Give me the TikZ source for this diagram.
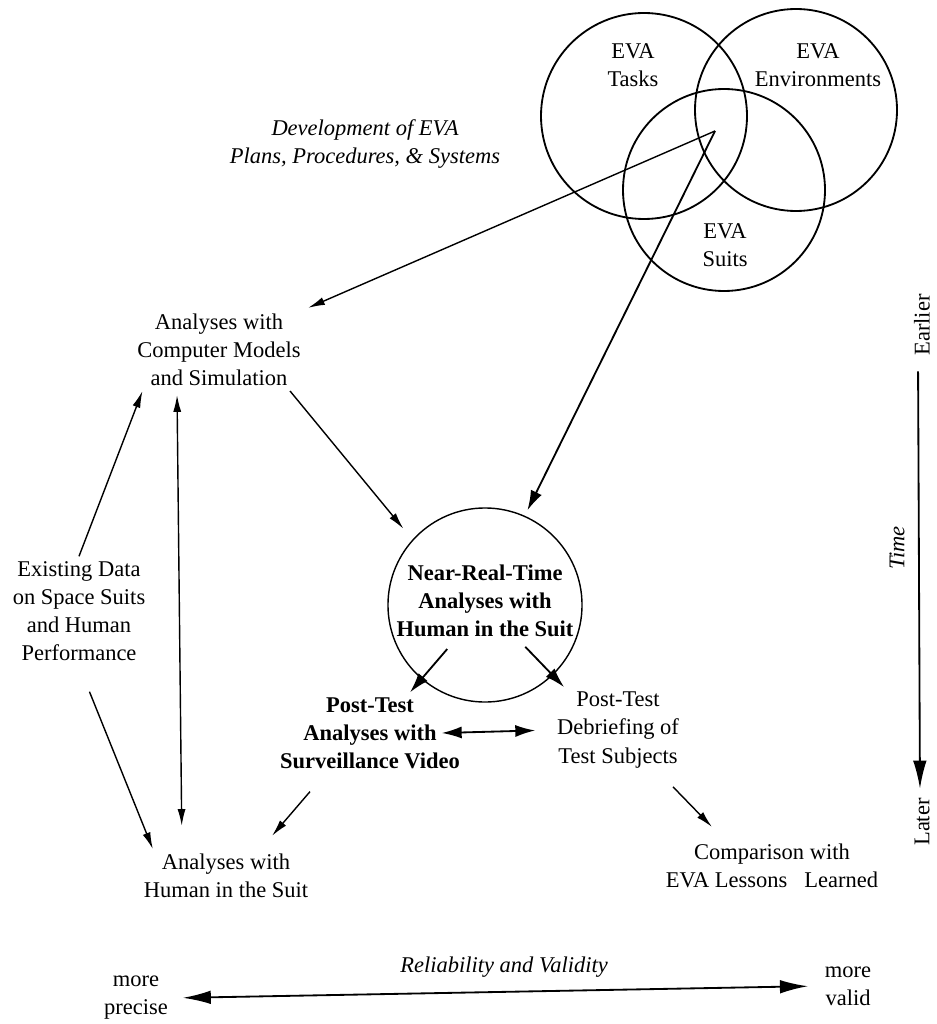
\documentclass[tikz,border=0pt]{standalone}
\usepackage{fontspec}
\setmainfont{Liberation Serif}
\usetikzlibrary{arrows.meta,positioning}

\begin{document}
\begin{tikzpicture}[x=0.025cm,y=-0.025cm,
    lbl/.style={align=center,font=\fontsize{16}{20}\selectfont},
    lblb/.style={lbl,font=\fontsize{16}{20}\selectfont\bfseries},
    lbli/.style={lbl,font=\fontsize{16}{20}\selectfont\itshape},
    thinarr/.style={line width=1pt,-{Latex[length=0.42cm,width=0.2cm]}},
    bigarr/.style={line width=1.3pt,-{Latex[length=0.5cm,width=0.3cm]}},
    longtip/.style={line width=1.3pt,-{Latex[length=0.7cm,width=0.34cm]}}]

\useasboundingbox (0,0) rectangle (936,1024);

\coordinate (cTasks) at (644,116);
\coordinate (cEnv) at (796,110);
\coordinate (cSuits) at (724,190);
\coordinate (vennmid) at (715,131);

% the three overlapping sets
\foreach \c/\r in {cTasks/103, cEnv/101, cSuits/101}
{
    \draw[line width=1.3pt] (\c) circle (\r);
};

\node[lbl] (tasks) at (633,65) {EVA\\Tasks};
\node[lbl] (envs) at (818,65) {EVA\\Environments};
\node[lbl] (suits) at (725,245) {EVA\\Suits};
\node[lbli] (devel) at (365,144) {Development of EVA\\Plans, Procedures, \& Systems};

\node[lbl] (cms) at (219,350) {Analyses with\\Computer Models\\and Simulation};
\node[lbl] (exist) at (79,611) {Existing Data\\on Space Suits\\and Human\\Performance};
\node[circle,draw,line width=1pt,minimum size=4.85cm] (nrt) at (485,605) {};
\node[lblb] (nrttext) at (485,601) {Near-Real-Time\\Analyses with\\Human in the Suit};
\node[lblb] (video) at (370,733) {Post-Test\\Analyses with\\Surveillance Video};
\node[lbl] (debrief) at (618,730) {Post-Test\\Debriefing of\\Test Subjects};
\node[lbl] (human) at (226,876) {Analyses with\\Human in the Suit};
\node[lbl] (lessons) at (772,866) {Comparison with\\EVA Lessons\ \ \ Learned};

% time axis
\node[lbl,rotate=90,inner sep=1pt] (earlier) at (922,325) {Earlier};
\node[lbl,rotate=90,inner sep=1pt] (later) at (922,822) {Later};
\node[lbli,rotate=90] (time) at (897,548) {Time};

% reliability axis
\node[lbl] (precise) at (136,998) {more\\precise};
\node[lbl] (valid) at (848,986) {more\\valid};
\node[lbli] (relval) at (504,967) {Reliability and Validity};

\draw[thinarr,shorten >=2pt] (vennmid) -- (cms.north east);
\draw[bigarr,shorten >=0.15cm] (vennmid) -- (nrt.66);
\draw[thinarr,shorten >=0.35cm] (cms.-30) -- (nrt.138);
\draw[thinarr] (exist.north) -- ([xshift=0.25cm]cms.south west);
\draw[thinarr,shorten <=0.7cm] (exist.south) -- ([xshift=0.35cm]human.north west);
\draw[thinarr,{Latex[length=0.42cm,width=0.2cm]}-{Latex[length=0.42cm,width=0.2cm]},shorten <=0.1cm,shorten >=0.58cm]
    ([xshift=-1.05cm]cms.south) -- ([xshift=-1.1cm]human.north);
\draw[bigarr,shorten <=1.45cm] (nrt.center) -- ([xshift=1cm]video.north);
\draw[bigarr,shorten <=1.45cm] (nrt.center) -- ([xshift=0.3cm]debrief.north west);
\draw[bigarr,{Latex[length=0.5cm,width=0.3cm]}-{Latex[length=0.5cm,width=0.3cm]},shorten >=0.42cm]
    ([xshift=-0.58cm]video.east) -- (debrief.west);
\draw[thinarr] ([xshift=-1.5cm,yshift=-0.45cm]video.south) -- ([xshift=1.15cm,yshift=0.33cm]human.north);
\draw[thinarr] ([xshift=1.375cm,yshift=-0.35cm]debrief.south) -- ([xshift=-1.5cm,yshift=0.3cm]lessons.north);

\draw[longtip,shorten <=0.35cm,shorten >=0.2cm] ([xshift=-0.1cm]earlier.west) -- ([xshift=-0.05cm]later.east);
\draw[longtip,{Latex[length=0.7cm,width=0.34cm]}-{Latex[length=0.7cm,width=0.34cm]},shorten <=0.25cm,shorten >=0.3cm]
    (precise.east) -- (valid.west);

\end{tikzpicture}
\end{document}
